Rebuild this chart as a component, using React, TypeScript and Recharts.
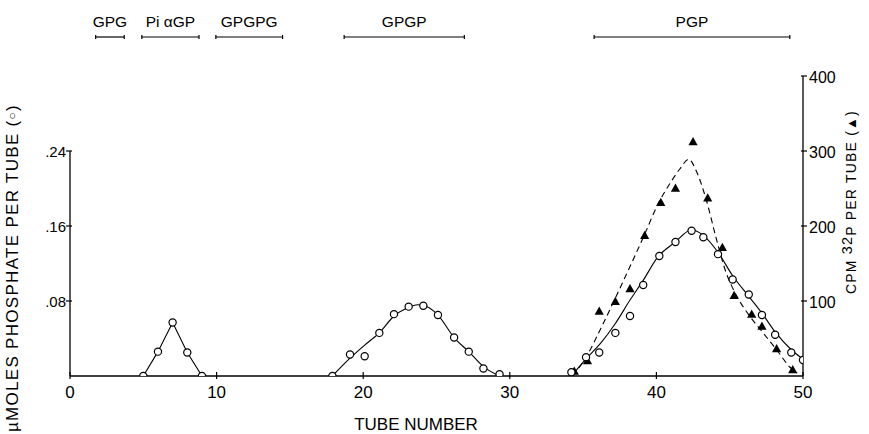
import { ComposedChart, XAxis, YAxis, Line, Scatter, ReferenceLine } from "recharts"

document.body.style.margin = "0"

const FONT = "'Liberation Sans', Arial, sans-serif"

// axis ticks
const tubeTicks = [0, 10, 20, 30, 40, 50]
const phosphateTicks = [0.08, 0.16, 0.24]
const cpmTicks = [100, 200, 300, 400]

// fractions marked above the plot
const fractionNames = ["GPG", "Pi \u03b1GP", "GPGPG", "GPGP", "PGP"]
const fractionStart = [1.75, 4.9, 9.95, 18.7, 35.75]
const fractionEnd = [3.7, 8.8, 14.5, 26.9, 49.1]
const FRACTION_LEVEL = 452 // in cpm units, above the 400 top

// open circles: umoles phosphate per tube
const circleTube = [
  5, 6, 7, 8, 9,
  17.9, 19.1, 20.1, 21.1, 22.1, 23.1, 24.1, 25.1, 26.2, 27.2, 28.2, 29.3,
  34.2, 35.2, 36.1, 37.2, 38.2, 39.1, 40.2, 41.3, 42.4, 43.2, 44.2, 45.2, 46.3, 47.2, 48.1, 49.2, 50,
]
const circlePhosphate = [
  0, 0.026, 0.057, 0.025, 0,
  0, 0.023, 0.021, 0.046, 0.066, 0.074, 0.075, 0.065, 0.041, 0.026, 0.008, 0.002,
  0.004, 0.02, 0.025, 0.046, 0.064, 0.097, 0.128, 0.143, 0.155, 0.148, 0.13, 0.103, 0.087, 0.065, 0.044, 0.025, 0.017,
]

// filled triangles: cpm 32P per tube
const triangleTube = [34.4, 35.3, 36.1, 37.2, 38.2, 39.2, 40.3, 41.3, 42.5, 43.5, 44.5, 45.3, 46.5, 47.2, 48.2, 49.3]
const triangleCpm = [6, 20, 86, 99, 116, 187, 231, 250, 312, 237, 171, 107, 82, 66, 36, 8]

// hand-drawn curves
const peak1Tube = [5, 6, 7, 8, 9]
const peak1Phosphate = [0, 0.026, 0.057, 0.025, 0]

const peak2Tube = [17.9, 19.1, 20.1, 21.1, 22.1, 23.1, 23.7, 24.1, 25.1, 26.2, 27.2, 28.2, 29.3]
const peak2Phosphate = [0, 0.019, 0.033, 0.046, 0.064, 0.073, 0.076, 0.0755, 0.065, 0.041, 0.026, 0.01, 0]

const peak3Tube = [34.2, 35.25, 36.2, 37.2, 38.2, 39.1, 40.1, 41.3, 42.4, 43.2, 44.2, 45.2, 46.3, 47.2, 48.1, 49.2, 50]
const peak3Phosphate = [0, 0.019, 0.035, 0.056, 0.081, 0.102, 0.127, 0.143, 0.156, 0.15, 0.132, 0.107, 0.085, 0.067, 0.047, 0.028, 0.018]

const cpmCurveTube = [34.3, 35.2, 36.2, 37.2, 38.2, 39.2, 40.1, 40.9, 41.6, 42.2, 42.75, 43.4, 44.1, 44.7, 45.5, 46.4, 47.3, 48.2, 49.1, 49.6]
const cpmCurve = [0, 25, 63, 104, 146, 189, 229, 256, 276, 289, 272, 235, 182, 141, 106, 79, 57, 35, 12, 4]

const zip = (xs: number[], ys: number[]) => xs.map((x, i) => ({ x, y: ys[i] }))

const circles = zip(circleTube, circlePhosphate)
const triangles = zip(triangleTube, triangleCpm)
const peak1 = zip(peak1Tube, peak1Phosphate)
const peak2 = zip(peak2Tube, peak2Phosphate)
const peak3 = zip(peak3Tube, peak3Phosphate)
const cpmFit = zip(cpmCurveTube, cpmCurve)

function OpenCircle(p: any) {
  return <circle cx={p.cx} cy={p.cy} r={3.6} fill="#fff" stroke="#000" strokeWidth={1.2} />
}

function FilledTriangle(p: any) {
  const { cx, cy } = p
  return <path d={`M${cx},${cy - 5} L${cx + 4.6},${cy + 3.2} L${cx - 4.6},${cy + 3.2} Z`} fill="#000" />
}

function TubeTick({ x, y, payload }: any) {
  return (
    <g>
      <line x1={x} x2={x} y1={y - 4} y2={y + 3} stroke="#000" strokeWidth={1.2} />
      <text x={x} y={y + 22} textAnchor="middle" fontSize={17} fill="#000" fontFamily={FONT}>
        {payload.value}
      </text>
    </g>
  )
}

function PhosphateTick({ x, y, payload }: any) {
  const label = payload.value.toFixed(2).replace(/^0/, "")
  return (
    <g>
      <line x1={x - 4} x2={x + 2} y1={y} y2={y} stroke="#000" strokeWidth={1.2} />
      <text x={x - 4} y={y + 6} textAnchor="end" fontSize={15} fill="#000" fontFamily={FONT}>
        {label}
      </text>
    </g>
  )
}

function CpmTick({ x, y, payload }: any) {
  return (
    <g>
      <line x1={x - 2} x2={x + 4} y1={y} y2={y} stroke="#000" strokeWidth={1.2} />
      <text x={x + 6} y={y + 7} textAnchor="start" fontSize={16} fill="#000" fontFamily={FONT}>
        {payload.value}
      </text>
    </g>
  )
}

function FractionBar(p: any) {
  const { x1, x2, y1, name } = p
  return (
    <g>
      <line x1={x1} x2={x2} y1={y1} y2={y1} stroke="#000" strokeWidth={1.2} />
      <line x1={x1} x2={x1} y1={y1 - 2} y2={y1 + 2} stroke="#000" strokeWidth={1.2} />
      <line x1={x2} x2={x2} y1={y1 - 2} y2={y1 + 2} stroke="#000" strokeWidth={1.2} />
      <text x={(x1 + x2) / 2} y={y1 - 10.5} textAnchor="middle" fontSize={15.5} fill="#000" fontFamily={FONT}>
        {name}
      </text>
    </g>
  )
}

function tubeTitle({ viewBox }: any) {
  return (
    <text x={viewBox.x + 346} y={viewBox.y + 54} textAnchor="middle" fontSize={17} fill="#000" fontFamily={FONT}>
      TUBE NUMBER
    </text>
  )
}

function phosphateTitle({ viewBox }: any) {
  const cx = viewBox.x + 12
  const cy = viewBox.y + 192
  return (
    <text
      x={cx}
      y={cy}
      transform={`rotate(-90 ${cx} ${cy})`}
      textAnchor="middle"
      dominantBaseline="central"
      fontSize={17}
      letterSpacing={1.3}
      fill="#000"
      fontFamily={FONT}
    >
      {"\u00b5MOLES PHOSPHATE PER TUBE ("}
      <tspan fontSize={12}>{"\u25cb"}</tspan>
      {")"}
    </text>
  )
}

function cpmTitle({ viewBox }: any) {
  const cx = viewBox.x + 48
  const cy = viewBox.y + 126
  return (
    <text
      x={cx}
      y={cy}
      transform={`rotate(-90 ${cx} ${cy})`}
      textAnchor="middle"
      dominantBaseline="central"
      fontSize={14}
      letterSpacing={1.2}
      fill="#000"
      fontFamily={FONT}
    >
      {"CPM "}
      <tspan dy={-4} fontSize={14.5}>32</tspan>
      <tspan dy={4}>{"P PER TUBE ("}</tspan>
      <tspan fontSize={13}>{"\u25b2"}</tspan>
      {")"}
    </text>
  )
}

export default function App() {
  return (
    <ComposedChart width={869} height={434} margin={{ top: 76, right: 0, bottom: 0, left: 0 }}>
      <XAxis
        type="number"
        dataKey="x"
        domain={[0, 50]}
        allowDataOverflow
        ticks={tubeTicks}
        height={58}
        tickSize={0}
        tickMargin={0}
        tickLine={false}
        axisLine={{ stroke: "#000", strokeWidth: 1.3 }}
        tick={<TubeTick />}
        label={tubeTitle}
      />
      <YAxis
        yAxisId="left"
        type="number"
        domain={[0, 0.32]}
        allowDataOverflow
        ticks={phosphateTicks}
        width={70}
        tickSize={0}
        tickMargin={0}
        tickLine={false}
        axisLine={false}
        tick={<PhosphateTick />}
        label={phosphateTitle}
      />
      <YAxis
        yAxisId="right"
        orientation="right"
        type="number"
        domain={[0, 400]}
        allowDataOverflow
        ticks={cpmTicks}
        width={66}
        tickSize={0}
        tickMargin={0}
        tickLine={false}
        axisLine={{ stroke: "#000", strokeWidth: 1.3 }}
        tick={<CpmTick />}
        label={cpmTitle}
      />

      <ReferenceLine
        yAxisId="left"
        segment={[{ x: 0, y: 0 }, { x: 0, y: 0.24 }]}
        stroke="#000"
        strokeWidth={1.3}
        ifOverflow="visible"
      />

      {fractionNames.map((name, i) => (
        <ReferenceLine
          key={name}
          yAxisId="right"
          segment={[
            { x: fractionStart[i], y: FRACTION_LEVEL },
            { x: fractionEnd[i], y: FRACTION_LEVEL },
          ]}
          ifOverflow="visible"
          shape={(p: any) => <FractionBar {...p} name={name} />}
        />
      ))}

      <Line yAxisId="left" data={peak1} dataKey="y" type="linear" stroke="#000" strokeWidth={1.1} dot={false} activeDot={false} isAnimationActive={false} />
      <Line yAxisId="left" data={peak2} dataKey="y" type="monotone" stroke="#000" strokeWidth={1.1} dot={false} activeDot={false} isAnimationActive={false} />
      <Line yAxisId="left" data={peak3} dataKey="y" type="monotone" stroke="#000" strokeWidth={1.1} dot={false} activeDot={false} isAnimationActive={false} />
      <Line yAxisId="right" data={cpmFit} dataKey="y" type="monotone" stroke="#000" strokeWidth={1.1} strokeDasharray="6 4" dot={false} activeDot={false} isAnimationActive={false} />

      <Scatter yAxisId="right" data={triangles} dataKey="y" shape={FilledTriangle} isAnimationActive={false} />
      <Scatter yAxisId="left" data={circles} dataKey="y" shape={OpenCircle} isAnimationActive={false} />
    </ComposedChart>
  )
}
